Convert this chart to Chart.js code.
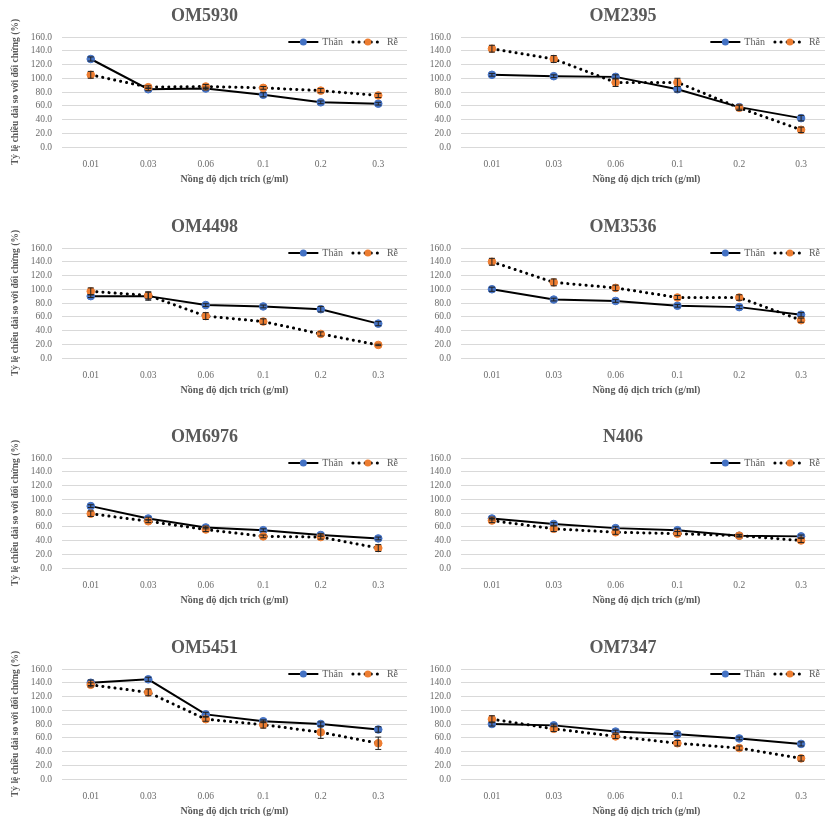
<!DOCTYPE html>
<html><head><meta charset="utf-8">
<script src="https://cdn.jsdelivr.net/npm/chart.js@4/dist/chart.umd.min.js"></script>
<style>
html,body{margin:0;padding:0;background:#fff;}
body{width:825px;height:816px;overflow:hidden;position:relative;}
.p{position:absolute;}
</style></head><body>
<script>
// ---- data ----
const categories = ['0.01','0.03','0.06','0.1','0.2','0.3'];
const seriesNames = ['Thân','Rễ'];
const xAxisTitle = 'Nồng độ dịch trích (g/ml)';
const yAxisTitle = 'Tỷ lệ chiều dài so với đối chứng (%)';
const yMin = 0, yMax = 160, yStep = 20;
const panelTitles = ['OM5930','OM2395','OM4498','OM3536','OM6976','N406','OM5451','OM7347'];

const om5930Than = [128, 84, 85, 76, 65, 63];
const om5930ThanErr = [3, 2, 2, 3, 2, 2];
const om5930Re = [105, 87, 88, 86, 82, 75];
const om5930ReErr = [5, 2, 3, 2, 3, 3];

const om2395Than = [105, 103, 102, 84, 58, 42];
const om2395ThanErr = [2, 2, 3, 4, 3, 4];
const om2395Re = [143, 128, 94, 94, 57, 25];
const om2395ReErr = [5, 5, 6, 6, 4, 4];

const om4498Than = [90, 90, 77, 75, 71, 50];
const om4498ThanErr = [2, 6, 2, 2, 4, 3];
const om4498Re = [97, 91, 61, 53, 35, 19];
const om4498ReErr = [5, 5, 5, 4, 3, 1];

const om3536Than = [100, 85, 83, 76, 74, 63];
const om3536ThanErr = [3, 2, 2, 2, 2, 3];
const om3536Re = [140, 110, 102, 88, 88, 55];
const om3536ReErr = [5, 5, 4, 3, 4, 3];

const om6976Than = [90, 72, 59, 55, 48, 43];
const om6976ThanErr = [2, 2, 2, 2, 2, 2];
const om6976Re = [79, 68, 56, 46, 45, 29];
const om6976ReErr = [4, 2, 3, 2, 3, 5];

const n406Than = [72, 64, 58, 55, 47, 46];
const n406ThanErr = [2, 2, 2, 2, 1, 2];
const n406Re = [69, 57, 52, 50, 47, 40];
const n406ReErr = [3, 4, 3, 3, 2, 3];

const om5451Than = [140, 145, 94, 84, 80, 72];
const om5451ThanErr = [4, 3, 3, 2, 3, 4];
const om5451Re = [137, 126, 87, 79, 68, 52];
const om5451ReErr = [3, 5, 3, 5, 9, 9];

const om7347Than = [80, 78, 69, 65, 59, 51];
const om7347ThanErr = [3, 2, 2, 2, 2, 3];
const om7347Re = [87, 73, 62, 52, 45, 30];
const om7347ReErr = [5, 4, 3, 4, 3, 4];

const panelThan = [om5930Than, om2395Than, om4498Than, om3536Than, om6976Than, n406Than, om5451Than, om7347Than];
const panelThanErr = [om5930ThanErr, om2395ThanErr, om4498ThanErr, om3536ThanErr, om6976ThanErr, n406ThanErr, om5451ThanErr, om7347ThanErr];
const panelRe = [om5930Re, om2395Re, om4498Re, om3536Re, om6976Re, n406Re, om5451Re, om7347Re];
const panelReErr = [om5930ReErr, om2395ReErr, om4498ReErr, om3536ReErr, om6976ReErr, n406ReErr, om5451ReErr, om7347ReErr];

// ---- layout / style ----
const SERIF = '"Liberation Serif", "Times New Roman", serif';
const rowTops = [0, 211, 421, 632];
const colLefts = [0, 412];
const colWidths = [412, 425];
const canvasH = 192;

const errorBarPlugin = {
  id: 'errBars',
  afterDatasetsDraw(chart) {
    const ctx = chart.ctx, ys = chart.scales.y;
    ctx.save();
    ctx.strokeStyle = '#222';
    ctx.lineWidth = 1;
    ctx.setLineDash([]);
    chart.data.datasets.forEach((ds, di) => {
      const meta = chart.getDatasetMeta(di);
      meta.data.forEach((pt, i) => {
        const v = ds.data[i], e = ds.errors ? ds.errors[i] : 0;
        if (!e) return;
        const yT = ys.getPixelForValue(v + e), yB = ys.getPixelForValue(v - e);
        ctx.beginPath();
        ctx.moveTo(pt.x, yT); ctx.lineTo(pt.x, yB);
        ctx.moveTo(pt.x - 3, yT); ctx.lineTo(pt.x + 3, yT);
        ctx.moveTo(pt.x - 3, yB); ctx.lineTo(pt.x + 3, yB);
        ctx.stroke();
      });
    });
    ctx.restore();
  }
};

const lineLegendPlugin = {
  id: 'lineLegend',
  afterDraw(chart, args, opts) {
    const { ctx, chartArea } = chart;
    ctx.save();
    ctx.font = '10px ' + SERIF;
    ctx.textBaseline = 'middle';
    ctx.textAlign = 'left';
    const y = chartArea.top + opts.dy;
    const sample = 30, gapText = 4, gapItem = 10;
    const items = chart.data.datasets.map(ds => ({ ds, w: ctx.measureText(ds.label).width }));
    const total = items.reduce((a, it) => a + sample + gapText + it.w, 0) + gapItem * (items.length - 1);
    let x = chartArea.right - opts.right - total;
    items.forEach(it => {
      const ds = it.ds;
      ctx.beginPath();
      ctx.strokeStyle = ds.borderColor;
      ctx.lineWidth = ds.borderWidth;
      ctx.setLineDash(ds.borderDash || []);
      ctx.lineCap = ds.borderCapStyle || 'butt';
      ctx.moveTo(x, y); ctx.lineTo(x + sample, y);
      ctx.stroke();
      ctx.setLineDash([]);
      ctx.beginPath();
      ctx.fillStyle = ds.pointBackgroundColor;
      ctx.arc(x + sample / 2, y, 3.5, 0, Math.PI * 2);
      ctx.fill();
      ctx.fillStyle = '#595959';
      ctx.fillText(ds.label, x + sample + gapText, y);
      x += sample + gapText + it.w + gapItem;
    });
    ctx.restore();
  }
};

panelTitles.forEach((title, idx) => {
  const col = idx % 2, row = Math.floor(idx / 2);
  const isLeft = col === 0;
  const div = document.createElement('div');
  div.className = 'p';
  div.style.left = colLefts[col] + 'px';
  div.style.top = rowTops[row] + 'px';
  const cv = document.createElement('canvas');
  cv.width = colWidths[col];
  cv.height = canvasH;
  cv.style.width = colWidths[col] + 'px';
  cv.style.height = canvasH + 'px';
  div.appendChild(cv);
  document.body.appendChild(div);

  new Chart(cv.getContext('2d'), {
    type: 'line',
    data: {
      labels: categories,
      datasets: [
        {
          label: seriesNames[0], data: panelThan[idx], errors: panelThanErr[idx],
          borderColor: '#000', borderWidth: 2, tension: 0, order: 1,
          pointBackgroundColor: '#4472C4', pointBorderColor: '#4472C4',
          pointRadius: 3.8, pointBorderWidth: 1, pointStyle: 'circle'
        },
        {
          label: seriesNames[1], data: panelRe[idx], errors: panelReErr[idx],
          borderColor: '#000', borderWidth: 3, tension: 0, order: 0,
          borderDash: [0.1, 6], borderCapStyle: 'round',
          pointBackgroundColor: '#ED7D31', pointBorderColor: '#ED7D31',
          pointRadius: 3.8, pointBorderWidth: 1, pointStyle: 'circle'
        }
      ]
    },
    options: {
      responsive: false,
      animation: false,
      devicePixelRatio: 1,
      layout: { padding: { left: 0, right: 3, top: 0, bottom: 0 } },
      plugins: {
        legend: { display: false },
        tooltip: { enabled: false },
        title: {
          display: true, text: title, color: '#595959',
          font: { family: SERIF, size: 18, weight: 'bold' },
          padding: { top: 6, bottom: 9.4 }
        },
        lineLegend: { dy: 5, right: isLeft ? 9 : 12 }
      },
      scales: {
        x: {
          offset: true,
          grid: { display: false },
          border: { display: false },
          ticks: { color: '#6b6b6b', font: { family: SERIF, size: 9.5 }, padding: 4, maxRotation: 0, autoSkip: false },
          title: {
            display: true, text: xAxisTitle, color: '#595959',
            font: { family: SERIF, size: 10, weight: 'bold' },
            padding: { top: 0, bottom: 7 }
          },
          afterFit(s) { s.height = 45; }
        },
        y: {
          min: yMin, max: yMax,
          ticks: {
            stepSize: yStep, color: '#6b6b6b', padding: 10, autoSkip: false,
            font: { family: SERIF, size: 9.5 },
            callback: v => Number(v).toFixed(1)
          },
          grid: { color: '#d9d9d9', drawTicks: false, lineWidth: 1 },
          border: { display: false },
          title: {
            display: isLeft, text: yAxisTitle, color: '#595959',
            font: { family: SERIF, size: 9.5, weight: 'bold' },
            padding: { top: 10, bottom: 0 }
          },
          afterFit(s) { s.width = isLeft ? 62 : 49; }
        }
      }
    },
    plugins: [errorBarPlugin, lineLegendPlugin]
  });
});
</script>
</body></html>
